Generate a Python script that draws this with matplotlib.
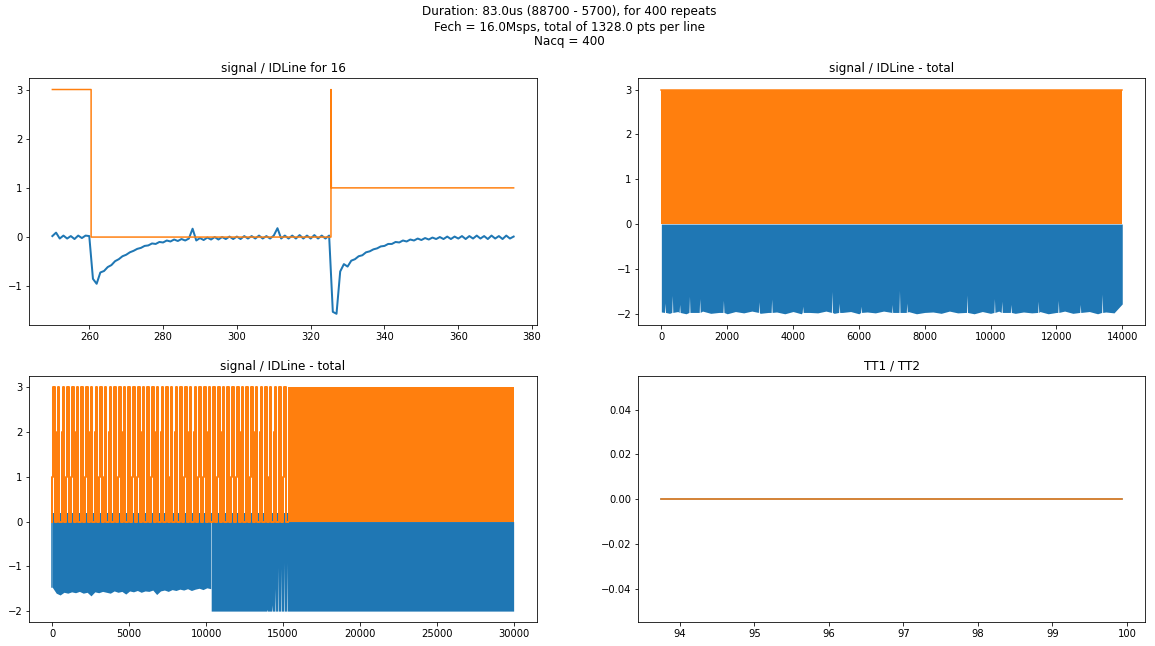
import numpy as np
import matplotlib
matplotlib.use("Agg")
import matplotlib.pyplot as plt

C_SIG = "#1f77b4"
C_ID = "#ff7f0e"

# ---------------- single line (zoom on line 16) ----------------
line_t = np.arange(250, 376)  # us
line_signal = [
    0.02, 0.09, -0.03, 0.03, -0.03, 0.02, -0.04, 0.03, -0.02, 0.03, 0.02,
    -0.85, -0.95, -0.72, -0.69, -0.61, -0.57, -0.49, -0.45, -0.39, -0.36,
    -0.31, -0.28, -0.24, -0.22, -0.18, -0.17, -0.13, -0.14, -0.10, -0.11,
    -0.07, -0.09, -0.05, -0.08, -0.04, -0.07, -0.03, 0.17, -0.07, -0.02,
    -0.06, -0.01, -0.05, 0.00, -0.05, 0.00, -0.04, 0.01, -0.04, 0.01,
    -0.04, 0.02, -0.03, 0.02, -0.03, 0.03, -0.03, 0.02, -0.03, 0.03,
    0.18, -0.03, 0.03, -0.03, 0.03, -0.03, 0.04, -0.03, 0.03, -0.03,
    0.04, -0.03, 0.03, -0.03, 0.03, -1.52, -1.56, -0.70, -0.55, -0.60,
    -0.48, -0.45, -0.39, -0.37, -0.31, -0.29, -0.25, -0.23, -0.19, -0.18,
    -0.14, -0.14, -0.10, -0.11, -0.07, -0.09, -0.05, -0.07, -0.03, -0.06,
    -0.02, -0.05, -0.01, -0.04, 0.00, -0.04, 0.01, -0.04, 0.01, -0.03,
    0.02, -0.04, 0.02, -0.03, 0.03, -0.03, 0.02, -0.04, 0.03, -0.03,
    0.02, -0.04, 0.03, -0.03, 0.01,
]
line_id_t = [250, 260.5, 260.5, 325.5, 325.5, 325.6, 375]
line_id = [3, 3, 0, 0, 3, 1, 1]

# ---------------- all lines, 14000 pts ----------------
total_end = 14000
total_id_max = 3
total_floor = [
    -1.96, -1.99, -1.95, -2.00, -1.97, -1.94, -1.99, -1.97, -2.00, -1.95,
    -1.98, -1.94, -1.99, -1.97, -1.96, -2.00, -1.95, -2.00, -1.97, -1.98,
    -1.94, -1.99, -1.97, -1.95, -2.00, -1.96, -1.98, -1.94, -1.99, -1.97,
    -1.95, -2.00, -1.97, -1.96, -1.99, -1.94, -1.98, -1.97, -2.00, -1.95,
    -1.99, -1.94, -1.97, -1.99, -1.96, -1.98, -1.95, -2.00, -1.97, -1.94,
    -1.99, -1.97, -1.95, -2.00, -1.96, -1.98, -1.78,
]
total_spike_x = [111, 333, 555, 854, 1165, 1886, 2962, 3350, 4293, 5180,
                 5402, 6068, 7011, 7233, 7455, 9285, 10117, 10339, 10616,
                 11448, 12058, 12724, 13390]
total_spike_y = [-1.76, -1.59, -1.79, -1.61, -1.66, -1.70, -1.73, -1.67,
                 -1.83, -1.50, -1.76, -1.83, -1.79, -1.48, -1.76, -1.58,
                 -1.66, -1.72, -1.79, -1.72, -1.70, -1.79, -1.56]

# ---------------- all lines, 30000 pts ----------------
long_end = 30000
pulse_start = [0, 300, 610, 915, 1225, 1530, 1840, 2140, 2450, 2760, 3060,
               3370, 3680, 3980, 4290, 4600, 4900, 5210, 5520, 5820, 6130,
               6440, 6740, 7050, 7360, 7660, 7970, 8280, 8580, 8890, 9200,
               9500, 9810, 10120, 10420, 10730, 11040, 11340, 11650, 11960,
               12260, 12570, 12880, 13180, 13490, 13800, 14100, 14410,
               14720, 15020]
pulse_step_dx = [0, 25, 50, 150]
pulse_step_level = [1, 2, 3, 0]
pulse_blue_peak = [0.53, 0.25, 0.46, 0.28, 0.30, 0.26, 0.33, 0.27, 0.39,
                   0.30, 0.26, 0.35, 0.28, 0.70, 0.27, 0.33, 0.26, 0.39,
                   0.30, 0.28, 0.34, 0.26, 0.46, 0.29, 0.27, 0.35, 0.44,
                   0.28, 0.30, 0.49, 0.27, 0.33, 0.28, 0.30, 0.26, 0.53,
                   0.29, 0.27, 0.34, 0.28, 0.31, 0.26, 0.55, 0.29, 0.27,
                   0.33, 0.28, 0.30, 0.26, 0.29]
dense_id_start = 15300
blue_band_top = 0.18
early_end = 10300
early_floor = [
    -1.47, -1.60, -1.64, -1.58, -1.60, -1.57, -1.59, -1.56, -1.60, -1.58,
    -1.66, -1.57, -1.59, -1.56, -1.58, -1.60, -1.55, -1.58, -1.56, -1.62,
    -1.55, -1.57, -1.54, -1.58, -1.55, -1.56, -1.53, -1.63, -1.55, -1.53,
    -1.56, -1.52, -1.54, -1.51, -1.53, -1.50, -1.54, -1.51, -1.49, -1.52,
    -1.48, -1.50,
]
late_start = 10330
late_floor = -2.0
late_notch_x = [13956, 14278, 14497, 14665, 14858, 15052, 15245]
late_notch_y = [-1.96, -1.86, -1.49, -1.02, -1.04, -0.92, -0.92]
gap_lo, gap_hi = -0.86, -0.12

# ---------------- TT1 / TT2 ----------------
tt_t = np.arange(93.75, 100.0, 0.0625)
tt1 = np.zeros_like(tt_t)
tt2 = np.zeros_like(tt_t)


def notched(xs, ys, nx, ny, half, shoulder):
    """Lower boundary made of samples plus narrow notches."""
    pts = list(zip(xs, ys))
    for x, y in zip(nx, ny):
        pts += [(x - half, shoulder), (x, y), (x + half, shoulder)]
    pts.sort(key=lambda p: p[0])
    px, py = zip(*pts)
    return np.array(px), np.array(py)


W, H = 1155, 646
fig = plt.figure(figsize=(W / 72, H / 72), dpi=72)


def add_ax(l, t, w, h):
    return fig.add_axes([l / W, 1 - (t + h) / H, w / W, h / H])


ax1 = add_ax(29.3, 78.3, 507.4, 246.7)
ax2 = add_ax(638.3, 78.3, 507.0, 246.7)
ax3 = add_ax(29.3, 376.0, 507.4, 246.3)
ax4 = add_ax(638.3, 376.0, 507.0, 246.3)

# line 16
ax1.plot(line_t, line_signal, color=C_SIG, lw=2.0)
ax1.plot(line_id_t, line_id, color=C_ID, lw=1.5)
ax1.set_title("signal / IDLine for 16", fontsize=12)

# total, 14000 pts
fx = np.linspace(0, total_end, len(total_floor))
bx, by = notched(fx, total_floor, total_spike_x, total_spike_y, 15, -1.97)
ax2.fill_between(bx, by, 0, color=C_SIG, lw=0)
ax2.fill_between([0, total_end], 0, total_id_max, color=C_ID, lw=0)
ax2.plot([0, total_end], [total_id_max, total_id_max], color=C_ID, lw=1.5)
ax2.set_title("signal / IDLine - total", fontsize=12)

# total, 30000 pts
ex = np.linspace(0, early_end, len(early_floor))
ax3.fill_between(ex, early_floor, 0, color=C_SIG, lw=0)
lx, ly = notched(np.array([late_start, long_end]),
                 np.array([late_floor, late_floor]),
                 late_notch_x, late_notch_y, 20, late_floor)
ax3.fill_between(lx, ly, 0, color=C_SIG, lw=0)
ax3.fill_between([early_end, late_start], [gap_lo] * 2, [-1.5] * 2,
                 color=C_SIG, lw=0)
ax3.fill_between([early_end, late_start], [gap_hi] * 2, [0] * 2,
                 color=C_SIG, lw=0)
ax3.fill_between([0, dense_id_start], 0, blue_band_top, color=C_SIG, lw=0)
ax3.vlines(np.array(pulse_start) + pulse_step_dx[-1], 0, pulse_blue_peak,
           color=C_SIG, lw=1.5)
ax3.plot([0, 0], [early_floor[0], pulse_blue_peak[0]], color=C_SIG, lw=1.5)

sx, sy = [], []
for s in pulse_start:
    lvl_prev = 0
    for dx, lvl in zip(pulse_step_dx, pulse_step_level):
        sx += [s + dx, s + dx]
        sy += [lvl_prev, lvl]
        lvl_prev = lvl
sx.append(dense_id_start)
sy.append(0)
ax3.plot(sx, sy, color=C_ID, lw=2.0)
ax3.fill_between([dense_id_start, long_end], 0, 3, color=C_ID, lw=0)
ax3.set_title("signal / IDLine - total", fontsize=12)

# TT1 / TT2
ax4.plot(tt_t, tt1, color=C_SIG, lw=1.5)
ax4.plot(tt_t, tt2, color=C_ID, lw=1.5)
ax4.set_title("TT1 / TT2", fontsize=12)

ax1.set_xlim(243.75, 381.25)
ax1.set_ylim(-1.788, 3.228)
ax2.set_xlim(-700, 14700)
ax2.set_ylim(-2.25, 3.25)
ax3.set_xlim(-1500, 31500)
ax3.set_ylim(-2.25, 3.25)
ax3.set_xticks([0, 5000, 10000, 15000, 20000, 25000, 30000])
ax4.set_xlim(93.75 - 0.3094, 99.9375 + 0.3094)
ax4.set_ylim(-0.055, 0.055)

for ax in (ax1, ax2, ax3, ax4):
    ax.tick_params(labelsize=10)

fig.suptitle("Duration: 83.0us (88700 - 5700), for 400 repeats\n"
             "Fech = 16.0Msps, total of 1328.0 pts per line\n"
             "Nacq = 400",
             x=569.3 / W, y=1 - 5.5 / H, va="top", fontsize=12)

fig.savefig("out.png", dpi=72)
